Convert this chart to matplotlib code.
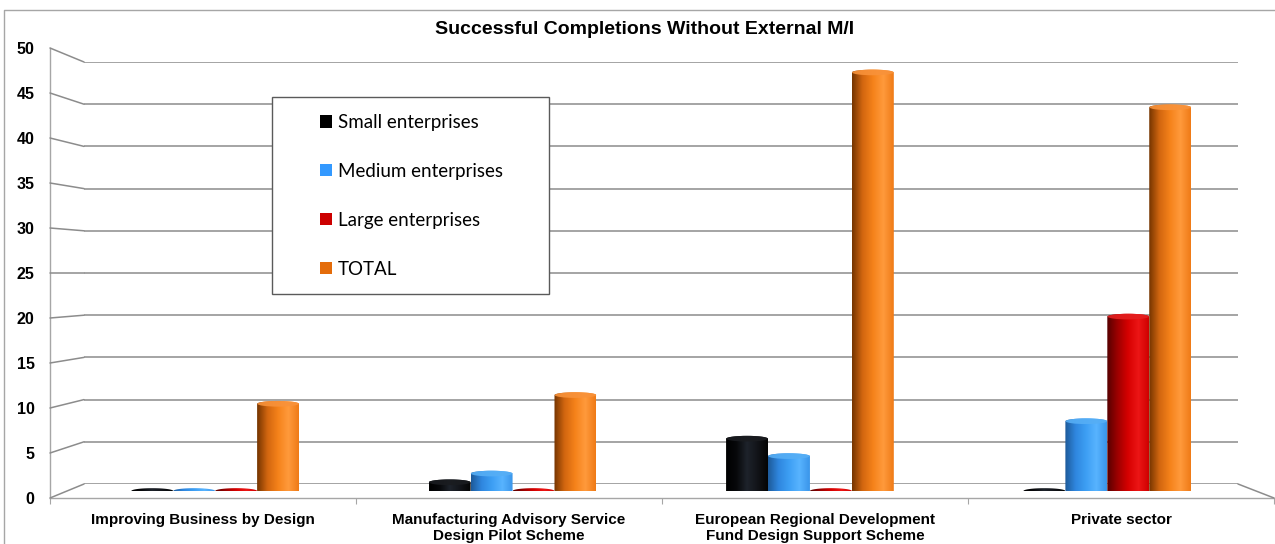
import numpy as np
import matplotlib
matplotlib.use("Agg")
import matplotlib.pyplot as plt
from matplotlib.path import Path
from matplotlib.patches import PathPatch, Ellipse, Patch, Rectangle, ConnectionPatch
from matplotlib.colors import LinearSegmentedColormap
from matplotlib.lines import Line2D

# ---- data -------------------------------------------------------------
categories = [
    "Improving Business by Design",
    "Manufacturing Advisory Service\nDesign Pilot Scheme",
    "European Regional Development\nFund Design Support Scheme",
    "Private sector",
]
series_names = ["Small enterprises", "Medium enterprises", "Large enterprises", "TOTAL"]
small_enterprises = [0, 1, 6, 0]
medium_enterprises = [0, 2, 4, 8]
large_enterprises = [0, 0, 0, 20]
total = [10, 11, 48, 44]
y_ticks = list(range(0, 55, 5))
title = "Successful Completions Without External M/I"

series_values = [small_enterprises, medium_enterprises, large_enterprises, total]
legend_colors = ["#000000", "#3399ff", "#cc0000", "#e46c0a"]
# cylinder shading, left edge -> right edge
shades = [
    ["#000000", "#07080a", "#1e232b", "#121419", "#040404"],
    ["#1d5a99", "#2f86de", "#3d9ff4", "#58b3ff", "#3995ea"],
    ["#560000", "#9c0000", "#d60000", "#ec1616", "#cf0000"],
    ["#743400", "#d26610", "#f5821a", "#ff9a3c", "#ef7a16"],
]
top_colors = ["#1a1c20", "#56aef5", "#e42020", "#f8923a"]

W, H = 1275, 544
fig = plt.figure(figsize=(W / 100, H / 100), dpi=100)
fig.patch.set_facecolor("white")


def rect(x0, ytop, x1, ybot):
    return [x0 / W, 1 - ybot / H, (x1 - x0) / W, (ybot - ytop) / H]


grid_color = "#8c8c8c"
wall_color = "#a6a6a6"
ncat = len(categories)
ymax = 50

# back wall
ax_back = fig.add_axes(rect(84, 62, 1238, 484))
ax_back.set_xlim(0, ncat)
ax_back.set_ylim(0, ymax)
ax_back.axis("off")
for v in y_ticks:
    ax_back.axhline(v, color=grid_color, lw=1.1)

# front plane: value axis and category axis
ax_front = fig.add_axes(rect(50, 48, 1274, 498))
ax_front.set_xlim(0, ncat)
ax_front.set_ylim(0, ymax)
ax_front.patch.set_alpha(0)
for s in ("top", "right"):
    ax_front.spines[s].set_visible(False)
for s in ("left", "bottom"):
    ax_front.spines[s].set_color(wall_color)
    ax_front.spines[s].set_linewidth(1.0)
ax_front.set_yticks(y_ticks)
ax_front.set_yticklabels([str(v) for v in y_ticks], fontfamily="Liberation Sans",
                         fontweight="bold", fontsize=11.5)
ax_front.tick_params(axis="y", length=0, pad=11)
ax_front.set_xticks(np.arange(ncat + 1))
ax_front.set_xticklabels([])
ax_front.tick_params(axis="x", which="major", length=4, color=wall_color, direction="out")
ax_front.set_xticks(np.arange(ncat) + 0.5, minor=True)
ax_front.set_xticklabels(categories, minor=True, fontfamily="Liberation Sans",
                         fontweight="bold", fontsize=11, linespacing=1.12)
ax_front.tick_params(axis="x", which="minor", length=0, pad=11)

# side wall and floor edges joining the two planes
for v in y_ticks:
    cp = ConnectionPatch(xyA=(0, v), coordsA=ax_front.transData,
                         xyB=(0, v), coordsB=ax_back.transData,
                         color=grid_color, lw=1.1, zorder=0.5)
    fig.add_artist(cp)
fig.add_artist(ConnectionPatch(xyA=(ncat, 0), coordsA=ax_front.transData,
                               xyB=(ncat, 0), coordsB=ax_back.transData,
                               color=grid_color, lw=1.1, zorder=0.5))

# bar plane (mid depth)
ax_mid = fig.add_axes(rect(66.5, 491 - ymax * 8.72, 1256, 491))
ax_mid.set_zorder(3)
ax_mid.axis("off")

bar_w = 0.141
ell_h = 0.65  # in value units
nser = len(series_values)
offsets = (np.arange(nser) - (nser - 1) / 2) * bar_w
a = bar_w / 2
b = ell_h / 2
t_low = np.linspace(np.pi, 2 * np.pi, 40)
t_up = np.linspace(0, np.pi, 40)
profile = np.linspace(0, 1, 256)[None, :]

for si, vals in enumerate(series_values):
    cmap = LinearSegmentedColormap.from_list(f"cyl{si}", shades[si])
    for ci, v in enumerate(vals):
        cx = ci + 0.5 + offsets[si]
        if v > 0:
            xs = np.concatenate([cx + a * np.cos(t_low), cx + a * np.cos(t_up)])
            ys = np.concatenate([b * np.sin(t_low), v + b * np.sin(t_up)])
        else:
            tt = np.linspace(0, 2 * np.pi, 80)
            xs = cx + a * np.cos(tt)
            ys = b * np.sin(tt)
        verts = np.column_stack([xs, ys])
        clip = PathPatch(Path(verts, closed=False), transform=ax_mid.transData,
                         facecolor="none", edgecolor="none")
        ax_mid.add_patch(clip)
        im = ax_mid.imshow(profile, cmap=cmap, aspect="auto", interpolation="bilinear",
                           extent=(cx - a, cx + a, -b, v + b), zorder=2 + si * 0.01 + ci)
        im.set_clip_path(clip)
        if v > 0:
            ax_mid.add_patch(Ellipse((cx, v), bar_w * 0.99, ell_h, facecolor=top_colors[si],
                                     edgecolor="none", alpha=0.9, zorder=2.005 + si * 0.01 + ci))

ax_mid.set_xlim(0, ncat)
ax_mid.set_ylim(0, ymax)

# legend box
fig.add_artist(Rectangle((272 / W, 1 - 294 / H), 277 / W, 197 / H, transform=fig.transFigure,
                         facecolor="white", edgecolor="#5a5a5a", lw=1.0, zorder=4))
handles = [Patch(facecolor=c, edgecolor="none") for c in legend_colors]
fig.legend(handles, series_names, loc="upper left",
           bbox_to_anchor=(320 / W, 1 - 114 / H), bbox_transform=fig.transFigure,
           frameon=False, borderpad=0, borderaxespad=0,
           prop={"family": "Lato", "size": 13.5},
           handlelength=0.64, handleheight=0.64, handletextpad=0.3, labelspacing=1.70)

# title
fig.text(645 / W, 1 - 29 / H, title, ha="center", va="center",
         fontfamily="Liberation Sans", fontweight="bold", fontsize=14)

# chart area border (top and left edges inside the canvas)
fig.add_artist(Line2D([4 / W, 4 / W, 1.0], [0.0, 1 - 10 / H, 1 - 10 / H],
                      transform=fig.transFigure, color="#a6a6a6", lw=1.0, zorder=0.2))

fig.savefig("out.png", dpi=100, facecolor="white")
